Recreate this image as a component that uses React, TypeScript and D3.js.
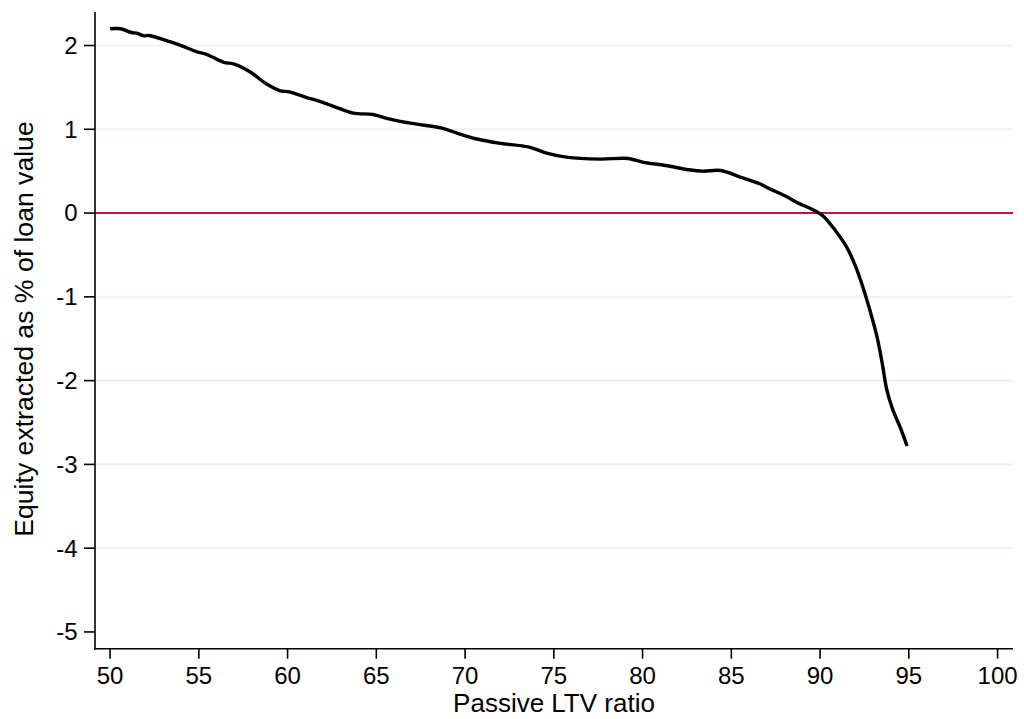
import React from 'react';
import * as d3 from 'd3';

// passive LTV ratio (x) and equity extracted as % of loan value (y)
const ltv = [
  50.0, 50.6, 51.2, 51.5, 51.9, 52.2, 53.3, 53.9, 54.9, 55.4, 56.4, 57.0, 57.9,
  58.8, 59.6, 60.1, 61.0, 61.9, 62.7, 63.7, 64.8, 65.7, 67.0, 68.7, 69.7, 70.6,
  71.9, 73.6, 74.6, 75.7, 77.6, 79.2, 80.0, 81.3, 82.6, 83.4, 84.4, 85.5, 86.6,
  87.2, 88.1, 88.7, 89.6, 90.2, 90.9, 91.5, 92.0, 92.4, 92.8, 93.2, 93.5, 93.75,
  94.1, 94.5, 94.9,
];
const equity = [
  2.2, 2.2, 2.155, 2.148, 2.116, 2.12, 2.05, 2.008, 1.925, 1.897, 1.8, 1.778, 1.683,
  1.543, 1.459, 1.447, 1.384, 1.328, 1.265, 1.193, 1.177, 1.125, 1.07, 1.014, 0.943, 0.887,
  0.835, 0.788, 0.716, 0.668, 0.644, 0.652, 0.609, 0.568, 0.517, 0.5, 0.508, 0.43, 0.35,
  0.286, 0.198, 0.127, 0.039, -0.04, -0.22, -0.406, -0.637, -0.876, -1.154, -1.47, -1.79, -2.1,
  -2.35, -2.55, -2.78,
];

const xTicks = [50, 55, 60, 65, 70, 75, 80, 85, 90, 95, 100];
const yTicks = [2, 1, 0, -1, -2, -3, -4, -5];
const gridValues = [2, 1, -1, -2, -3, -4];

const W = 1024;
const H = 719;
const font = '"Liberation Sans", Arial, Helvetica, sans-serif';

export default function App() {
  const x = d3.scaleLinear().domain([49.15, 100.87]).range([95, 1013]);
  const y = d3.scaleLinear().domain([-5.2, 2.4]).range([648.7, 12]);

  const pts: [number, number][] = ltv.map((v, i) => [v, equity[i]]);
  const line = d3
    .line<[number, number]>()
    .x(d => x(d[0]))
    .y(d => y(d[1]))
    .curve(d3.curveCatmullRom.alpha(0.5));

  const [x0, x1] = x.range();
  const [yb, yt] = y.range();

  return (
    <svg width={W} height={H} style={{ position: 'absolute', left: 0, top: 0, background: '#fff' }}>
      {/* grid */}
      {gridValues.map(v => (
        <line key={v} x1={x0} x2={x1} y1={y(v)} y2={y(v)} stroke="#e8f0f2" strokeWidth={1.6} />
      ))}
      {/* zero reference line */}
      <line x1={x0} x2={x1} y1={y(0)} y2={y(0)} stroke="#c8143c" strokeWidth={2} />

      {/* curve */}
      <path d={line(pts) ?? ''} fill="none" stroke="#000" strokeWidth={3.4} strokeLinejoin="round" />

      {/* y axis */}
      <line x1={x0} x2={x0} y1={yt} y2={yb + 1} stroke="#000" strokeWidth={1.6} />
      {yTicks.map(v => (
        <g key={v} transform={`translate(0,${y(v)})`}>
          <line x1={x0 - 11} x2={x0} stroke="#000" strokeWidth={1.6} />
          <text x={77.5} dy="0.35em" textAnchor="end" fontFamily={font} fontSize={24} fill="#000">
            {v}
          </text>
        </g>
      ))}

      {/* x axis */}
      <line x1={x0 - 1} x2={x1} y1={yb} y2={yb} stroke="#000" strokeWidth={1.6} />
      {xTicks.map(v => (
        <g key={v} transform={`translate(${x(v)},0)`}>
          <line y1={yb} y2={yb + 10} stroke="#000" strokeWidth={1.6} />
          <text y={684} textAnchor="middle" fontFamily={font} fontSize={24} fill="#000">
            {v}
          </text>
        </g>
      ))}

      {/* axis titles */}
      <text x={(x0 + x1) / 2} y={711.5} textAnchor="middle" fontFamily={font} fontSize={26} fill="#000">
        Passive LTV ratio
      </text>
      <text
        transform={`translate(33,329) rotate(-90)`}
        textAnchor="middle"
        fontFamily={font}
        fontSize={26.6}
        fill="#000"
      >
        Equity extracted as % of loan value
      </text>
    </svg>
  );
}
